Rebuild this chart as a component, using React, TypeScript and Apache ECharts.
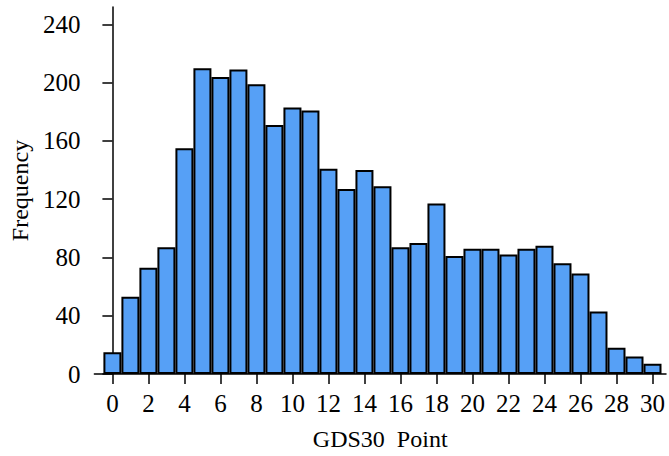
import React, { useEffect, useRef } from "react";
import * as echarts from "echarts";

const points: number[] = [
  0, 1, 2, 3, 4, 5, 6, 7, 8, 9, 10, 11, 12, 13, 14, 15, 16, 17, 18, 19, 20, 21, 22, 23, 24, 25, 26, 27, 28, 29, 30,
];
const frequencies: number[] = [
  15, 53, 73, 87, 155, 210, 204, 209, 199, 171, 183, 181, 141, 127, 140, 129, 87, 90, 117, 81, 86, 86, 82, 86, 88, 76,
  69, 43, 18, 12, 7,
];
const xTicks: number[] = [0, 2, 4, 6, 8, 10, 12, 14, 16, 18, 20, 22, 24, 26, 28, 30];
const yTicks: number[] = [0, 40, 80, 120, 160, 200, 240];

const FONT = "'Liberation Serif', 'Times New Roman', serif";

export default function App() {
  const ref = useRef<HTMLDivElement>(null);
  useEffect(() => {
    if (!ref.current) return;
    const chart = echarts.init(ref.current, undefined, { renderer: "svg" });
    chart.setOption({
      animation: false,
      backgroundColor: "#ffffff",
      grid: { left: 92, right: 3, top: 7, bottom: 80, containLabel: false },
      xAxis: {
        type: "value",
        min: -1,
        max: 30.75,
        name: "GDS30  Point",
        nameLocation: "middle",
        nameGap: 53,
        nameTextStyle: { fontFamily: FONT, fontSize: 24, color: "#000" },
        axisLine: { show: true, onZero: false, lineStyle: { color: "#000", width: 1.5 } },
        axisTick: { show: true, length: 10, lineStyle: { color: "#000", width: 1.5 }, customValues: xTicks },
        axisLabel: { fontFamily: FONT, fontSize: 25, color: "#000", margin: 17, customValues: xTicks },
        splitLine: { show: false },
      },
      yAxis: {
        type: "value",
        min: 0,
        max: 252,
        name: "Frequency",
        nameLocation: "middle",
        nameGap: 53,
        nameTextStyle: { fontFamily: FONT, fontSize: 24, color: "#000" },
        axisLine: { show: true, lineStyle: { color: "#000", width: 1.5 } },
        axisTick: { show: true, length: 10, lineStyle: { color: "#000", width: 1.5 }, customValues: yTicks },
        axisLabel: { fontFamily: FONT, fontSize: 25, color: "#000", margin: 14, customValues: yTicks },
        splitLine: { show: false },
      },
      series: [
        {
          type: "bar",
          data: points.map((p, i) => [p, frequencies[i]]),
          barWidth: 18,
          itemStyle: { color: "#56a0f6", borderColor: "#000", borderWidth: 2 },
        },
      ],
    });
    return () => chart.dispose();
  }, []);
  return <div ref={ref} style={{ width: 669, height: 456, position: "absolute", left: 0, top: 0 }} />;
}
